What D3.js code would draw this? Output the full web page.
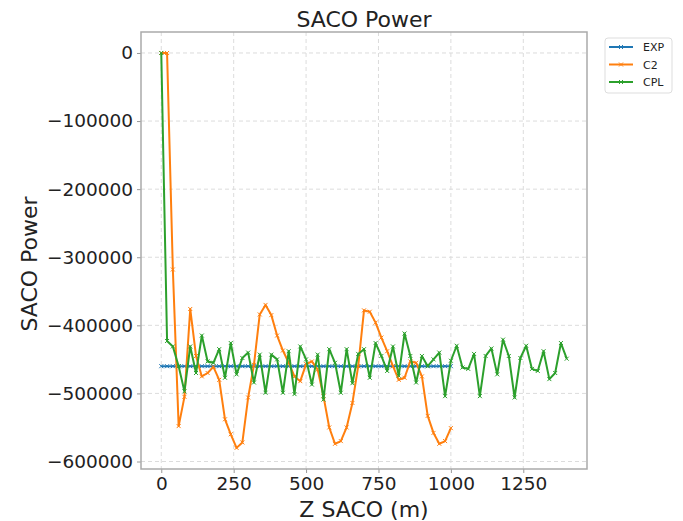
<!DOCTYPE html>
<html>
<head>
<meta charset="utf-8">
<script src="https://cdn.jsdelivr.net/npm/d3@7"></script>
<style>
  html, body { margin: 0; padding: 0; background: #fff; }
  svg { display: block; }
  text { font-family: "DejaVu Sans", sans-serif; fill: #222; }
</style>
</head>
<body>
<svg id="chart" width="683" height="521"></svg>
<script>
// ---- data ----
const zSaco = [0,20,40,60,80,100,120,140,160,180,200,220,240,260,280,300,320,340,360,380,
  400,420,440,460,480,500,520,540,560,580,600,620,640,660,680,700,720,740,760,780,
  800,820,840,860,880,900,920,940,960,980,1000,1020,1040,1060,1080,1100,1120,1140,1160,1180,
  1200,1220,1240,1260,1280,1300,1320,1340,1360,1380,1400];

const expPower = [-460000,-460000,-460000,-460000,-460000,-460000,-460000,-460000,-460000,-460000,
  -460000,-460000,-460000,-460000,-460000,-460000,-460000,-460000,-460000,-460000,
  -460000,-460000,-460000,-460000,-460000,-460000,-460000,-460000,-460000,-460000,
  -460000,-460000,-460000,-460000,-460000,-460000,-460000,-460000,-460000,-460000,
  -460000,-460000,-460000,-460000,-460000,-460000,-460000,-460000,-460000,-460000,-460000];

const c2Power = [0,0,-318000,-548000,-505000,-376000,-445000,-475000,-470000,-461000,
  -480000,-538000,-560000,-580000,-572000,-506000,-458000,-384000,-370000,-385000,
  -415000,-437000,-455000,-475000,-482000,-457000,-453000,-465000,-504000,-550000,
  -574000,-570000,-550000,-514000,-460000,-378000,-380000,-396000,-418000,-438000,
  -460000,-480000,-477000,-453000,-455000,-475000,-533000,-558000,-574000,-570000,-551000];

const cplPower = [0,-423000,-431000,-460000,-497000,-431000,-470000,-415000,-453000,-455000,
  -435000,-477000,-426000,-472000,-448000,-440000,-484000,-443000,-499000,-443000,
  -450000,-499000,-438000,-501000,-431000,-450000,-487000,-443000,-509000,-435000,
  -455000,-499000,-435000,-485000,-442000,-435000,-477000,-426000,-445000,-467000,
  -431000,-474000,-412000,-445000,-484000,-445000,-460000,-450000,-440000,-504000,
  -452000,-430000,-462000,-464000,-442000,-504000,-445000,-434000,-472000,-421000,
  -445000,-506000,-448000,-430000,-464000,-467000,-438000,-479000,-470000,-426000,-449000];

const seriesNames = ["EXP", "C2", "CPL"];
const seriesColors = ["#1f77b4", "#ff7f0e", "#2ca02c"];
const xTicks = [0, 250, 500, 750, 1000, 1250];
const yTicks = [0, -100000, -200000, -300000, -400000, -500000, -600000];

const chartTitle = "SACO Power";
const xLabel = "Z SACO (m)";
const yLabel = "SACO Power";

// ---- layout ----
const svg = d3.select("#chart");
const W = 683, H = 521;
const m = { left: 141, top: 32, right: 587, bottom: 469 };

svg.append("rect").attr("width", W).attr("height", H).attr("fill", "#fff");

const x = d3.scaleLinear().domain([-70, 1470]).range([m.left, m.right]);
const y = d3.scaleLinear().domain([-611000, 30800]).range([m.bottom, m.top]);

// grid
const g = svg.append("g");
g.selectAll(".vg").data(xTicks).join("line")
  .attr("x1", d => x(d)).attr("x2", d => x(d))
  .attr("y1", m.top).attr("y2", m.bottom)
  .attr("stroke", "#dcdcdc").attr("stroke-width", 1).attr("stroke-dasharray", "4,3");
g.selectAll(".hg").data(yTicks).join("line")
  .attr("y1", d => y(d)).attr("y2", d => y(d))
  .attr("x1", m.left).attr("x2", m.right)
  .attr("stroke", "#dcdcdc").attr("stroke-width", 1).attr("stroke-dasharray", "4,3");

// axes
const fmt = d => (d < 0 ? "\u2212" + Math.abs(d) : String(d));
const xAxis = svg.append("g").attr("transform", `translate(0,${m.bottom})`)
  .call(d3.axisBottom(x).tickValues(xTicks).tickSize(4).tickPadding(4).tickFormat(fmt));
const yAxis = svg.append("g").attr("transform", `translate(${m.left},0)`)
  .call(d3.axisLeft(y).tickValues(yTicks).tickSize(4).tickPadding(4).tickFormat(fmt));
[xAxis, yAxis].forEach(a => {
  a.select(".domain").remove();
  a.selectAll(".tick line").attr("stroke", "#999");
  a.selectAll(".tick text").attr("font-size", 18.5).attr("fill", "#222")
    .attr("font-family", "DejaVu Sans, sans-serif");
});

// spines
svg.append("rect")
  .attr("x", m.left).attr("y", m.top)
  .attr("width", m.right - m.left).attr("height", m.bottom - m.top)
  .attr("fill", "none").attr("stroke", "#aaa").attr("stroke-width", 1.5);

// series
const series = [
  { name: seriesNames[0], color: seriesColors[0], xs: zSaco.slice(0, expPower.length), ys: expPower },
  { name: seriesNames[1], color: seriesColors[1], xs: zSaco.slice(0, c2Power.length), ys: c2Power },
  { name: seriesNames[2], color: seriesColors[2], xs: zSaco.slice(0, cplPower.length), ys: cplPower }
];

const line = d3.line().x(d => x(d[0])).y(d => y(d[1]));
const xMark = (cx, cy, r) => `M${cx - r},${cy - r}L${cx + r},${cy + r}M${cx - r},${cy + r}L${cx + r},${cy - r}`;

series.forEach(s => {
  const pts = s.xs.map((v, i) => [v, s.ys[i]]);
  const sg = svg.append("g");
  sg.append("path").datum(pts).attr("d", line)
    .attr("fill", "none").attr("stroke", s.color).attr("stroke-width", 2)
    .attr("stroke-linejoin", "round");
  sg.selectAll("path.mk").data(pts).join("path").attr("class", "mk")
    .attr("d", d => xMark(x(d[0]), y(d[1]), 2))
    .attr("stroke", s.color).attr("stroke-width", 1);
});

// title & labels
svg.append("text").attr("x", (m.left + m.right) / 2).attr("y", 27)
  .attr("text-anchor", "middle").attr("font-size", 22).text(chartTitle);
svg.append("text").attr("x", (m.left + m.right) / 2).attr("y", 517)
  .attr("text-anchor", "middle").attr("font-size", 22).text(xLabel);
svg.append("text").attr("transform", `translate(37,264) rotate(-90)`)
  .attr("text-anchor", "middle").attr("font-size", 22).text(yLabel);

// legend
const lg = svg.append("g").attr("transform", "translate(605,38)");
lg.append("rect").attr("width", 67).attr("height", 55).attr("rx", 3)
  .attr("fill", "#fff").attr("stroke", "#ddd").attr("stroke-width", 1);
series.forEach((s, i) => {
  const cy = 9 + i * 17.5;
  lg.append("line").attr("x1", 4).attr("x2", 28).attr("y1", cy).attr("y2", cy)
    .attr("stroke", s.color).attr("stroke-width", 2);
  lg.append("path").attr("d", xMark(16, cy, 2)).attr("stroke", s.color).attr("stroke-width", 1);
  lg.append("text").attr("x", 38).attr("y", cy + 4).attr("font-size", 11).text(s.name);
});
</script>
</body>
</html>
